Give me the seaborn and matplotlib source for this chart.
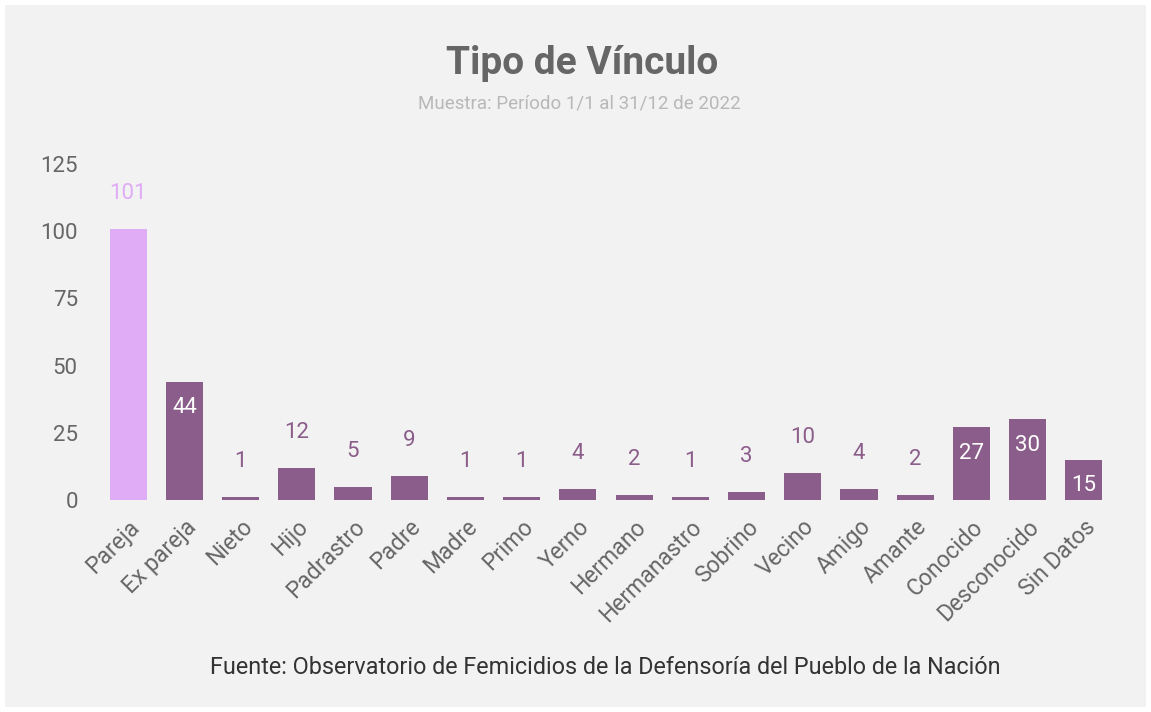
import matplotlib
matplotlib.use("Agg")
import matplotlib.pyplot as plt
from matplotlib.patches import Rectangle
import seaborn as sns
import pandas as pd

# data
categorias = ["Pareja", "Ex pareja", "Nieto", "Hijo", "Padrastro", "Padre", "Madre",
              "Primo", "Yerno", "Hermano", "Hermanastro", "Sobrino", "Vecino", "Amigo",
              "Amante", "Conocido", "Desconocido", "Sin Datos"]
casos = [101, 44, 1, 12, 5, 9, 1, 1, 4, 2, 1, 3, 10, 4, 2, 27, 30, 15]
yticks = [0, 25, 50, 75, 100, 125]

LIGHT = "#dfacf5"
DARK = "#8b5d8a"
BG = "#f2f2f2"

sns.set_theme(style="white")
plt.rcParams["font.family"] = ["Roboto", "DejaVu Sans"]

df = pd.DataFrame({"vinculo": categorias, "casos": casos})
colores = [LIGHT if v == max(casos) else DARK for v in casos]

fig = plt.figure(figsize=(11.51, 7.12), dpi=100, facecolor="white")
fig.patches.append(Rectangle((5 / 1151, 5 / 712), 1141 / 1151, 702 / 712,
                             transform=fig.transFigure, facecolor=BG,
                             edgecolor="none", zorder=-10))
ax = fig.add_axes([100 / 1151, (712 - 500) / 712, 1012 / 1151, (500 - 164) / 712])
ax.set_facecolor(BG)

sns.barplot(data=df, x="vinculo", y="casos", hue="vinculo", palette=colores,
            legend=False, width=0.66, saturation=1, linewidth=0, ax=ax)

ax.set_ylim(0, 125)
ax.set_yticks(yticks)
ax.set_xlim(-0.5, len(categorias) - 0.5)
ax.set_xlabel("")
ax.set_ylabel("")
for s in ax.spines.values():
    s.set_visible(False)
ax.tick_params(axis="y", length=0, pad=16, labelsize=16, labelcolor="#666666")
ax.tick_params(axis="x", length=0, pad=11, labelsize=16.5, labelcolor="#666666")
plt.setp(ax.get_xticklabels(), rotation=45, ha="right", rotation_mode="anchor")

# value labels
for i, v in enumerate(casos):
    if v == max(casos):
        ax.annotate(str(v), (i, v), xytext=(0, 25.5), textcoords="offset points",
                    ha="center", va="center", fontsize=16, color=LIGHT)
    elif v >= 15:
        ax.annotate(str(v), (i, v), xytext=(0, -18.5), textcoords="offset points",
                    ha="center", va="center", fontsize=16, color="white")
    else:
        ax.annotate(str(v), (i, v), xytext=(0, 25.5), textcoords="offset points",
                    ha="center", va="center", fontsize=16, color=DARK)

fig.text(582 / 1151, 1 - 63 / 712, "Tipo de Vínculo", ha="center", va="center",
         fontsize=28, fontweight="bold", color="#666666")
fig.text(579 / 1151, 1 - 103 / 712, "Muestra: Período 1/1 al 31/12 de 2022",
         ha="center", va="center", fontsize=13.5, color="#b8b8b8")
fig.text(605 / 1151, 1 - 668 / 712,
         "Fuente: Observatorio de Femicidios de la Defensoría del Pueblo de la Nación",
         ha="center", va="center", fontsize=16.8, color="#333333")

fig.savefig("out.png", dpi=100, facecolor="white")
